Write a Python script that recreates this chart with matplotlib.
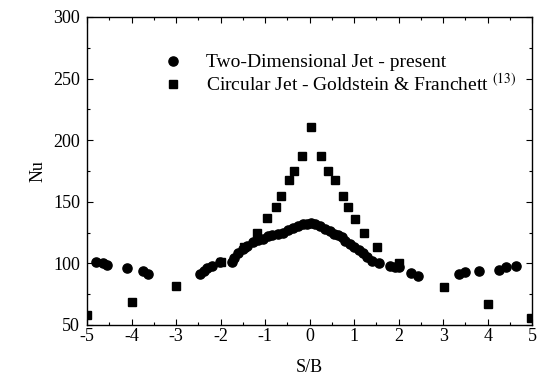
import matplotlib
matplotlib.use("Agg")
import matplotlib.pyplot as plt
from matplotlib.ticker import MultipleLocator

plt.rcParams['font.family'] = ['Liberation Serif', 'DejaVu Serif']
plt.rcParams['mathtext.fontset'] = 'stix'
plt.rcParams['axes.unicode_minus'] = False

# Two-dimensional jet (present study)
jet2d_x = [-4.8, -4.65, -4.55, -4.1, -3.75, -3.62,
           -2.47, -2.38, -2.3, -2.2, -2.02, -1.75, -1.7, -1.6, -1.5, -1.4,
           -1.27, -1.15, -1.04, -0.94, -0.84, -0.72, -0.6, -0.48, -0.37,
           -0.26, -0.15, -0.05, 0.03, 0.13, 0.24, 0.35, 0.46, 0.55, 0.63,
           0.72, 0.8, 0.9, 1.0, 1.1, 1.2, 1.3, 1.4, 1.55, 1.8, 1.92, 2.0,
           2.27, 2.43, 3.35, 3.48, 3.8, 4.25, 4.42, 4.63]
jet2d_nu = [101, 100, 99, 96, 94, 91,
            91, 94, 96, 98, 101, 101, 104, 108, 112, 114,
            117, 119, 120, 122, 123, 124, 125, 127, 129,
            130, 132, 132, 133, 132, 130, 128, 126, 124, 123,
            121, 118, 116, 113, 111, 108, 105, 102, 100, 98, 97, 97,
            92, 90, 91, 93, 94, 95, 97, 98]

# Circular jet - Goldstein & Franchett
circ_x = [-5, -4, -3, -2, -1.47, -1.17, -0.96, -0.76, -0.65, -0.47, -0.36,
          -0.16, 0.03, 0.25, 0.42, 0.56, 0.76, 0.86, 1.03, 1.23, 1.52, 2.0,
          3.02, 4.0, 4.98]
circ_nu = [58, 69, 82, 101, 113, 125, 137, 146, 155, 168, 175,
           187, 211, 187, 175, 168, 155, 146, 136, 125, 113, 100,
           81, 67, 56]

fig = plt.figure(figsize=(5.37, 3.85), dpi=100)
ax = fig.add_axes([0.162, 0.156, 0.829, 0.8])

ax.plot(jet2d_x, jet2d_nu, 'o', color='black', markersize=6.6,
        label='Two-Dimensional Jet - present')
ax.plot(circ_x, circ_nu, 's', color='black', markersize=6.0,
        label=r'Circular Jet - Goldstein & Franchett $^{(13)}$')

ax.set_xlim(-5, 5)
ax.set_ylim(50, 300)
ax.xaxis.set_major_locator(MultipleLocator(1))
ax.xaxis.set_minor_locator(MultipleLocator(0.5))
ax.yaxis.set_major_locator(MultipleLocator(50))
ax.yaxis.set_minor_locator(MultipleLocator(25))
ax.tick_params(which='both', direction='in', top=True, right=True,
               labelsize=13, width=0.8)
ax.tick_params(which='major', length=4, pad=2)
ax.tick_params(which='minor', length=2)
ax.tick_params(axis='y', pad=5)
for sp in ax.spines.values():
    sp.set_linewidth(1.0)

ax.set_xlabel('S/B', fontsize=13, labelpad=10)
ax.set_ylabel('Nu', fontsize=13, labelpad=5)

ax.legend(loc='upper left', bbox_to_anchor=(0.15, 0.912), frameon=False,
          fontsize=14, handletextpad=1.2, labelspacing=0.05,
          handlelength=1.0, borderpad=0)

fig.savefig('out.png', dpi=100)
